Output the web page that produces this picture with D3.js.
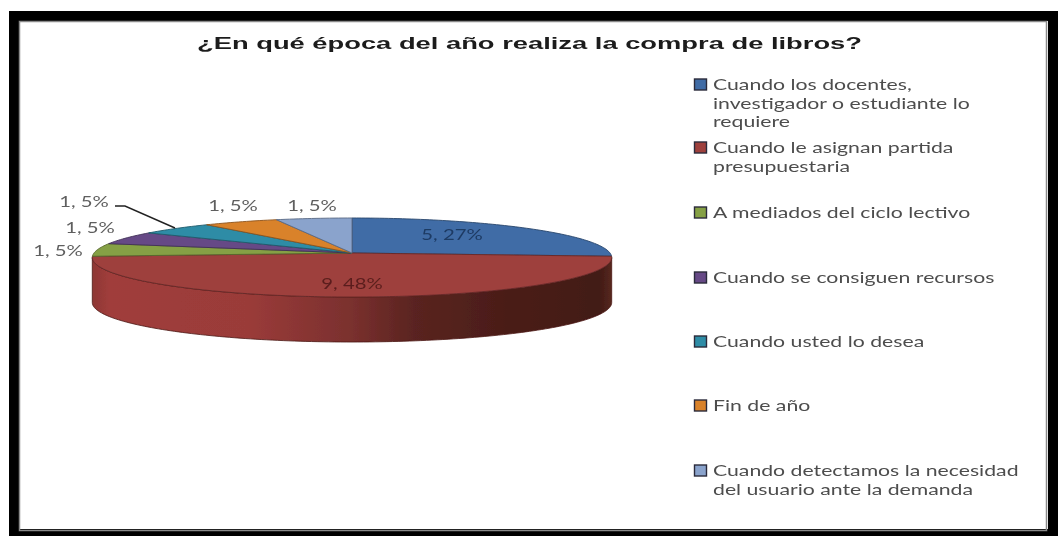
<!DOCTYPE html>
<html>
<head>
<meta charset="utf-8">
<script src="https://cdn.jsdelivr.net/npm/d3@7/dist/d3.min.js"></script>
<style>
html, body { margin: 0; padding: 0; background: #fff; }
svg { display: block; }
text { font-family: Lato, "Open Sans", sans-serif; }
</style>
</head>
<body>
<script>
'use strict'

const title = '¿En qué época del año realiza la compra de libros?'
const categories = [
    ['Cuando los docentes,', 'investigador o estudiante lo', 'requiere'],
    ['Cuando le asignan partida', 'presupuestaria'],
    ['A mediados del ciclo lectivo'],
    ['Cuando se consiguen recursos'],
    ['Cuando usted lo desea'],
    ['Fin de año'],
    ['Cuando detectamos la necesidad', 'del usuario ante la demanda']
]
const values = [5, 9, 1, 1, 1, 1, 1]
const percents = [27, 48, 5, 5, 5, 5, 5]
const colors = ['#3f6ca6', '#9e3f3d', '#85a044', '#664a86', '#2f8ca6', '#d9822c', '#8aa3cc']

const width = 1058
const height = 536

// pie tilt: ellipse seen in perspective, so the apex sits above the ellipse centre
const cx = 352
const apexY = 253
const radiusX = 258
const radiusY = 39
const persp = 0.114
const depth = 45
const silhouette = Math.acos(-persp)

const xScale = d3.scaleLinear().domain([-1, 1]).range([cx - radiusX, cx + radiusX])
const yScale = d3.scaleLinear().domain([-1, 1]).range([apexY - radiusY, apexY + radiusY])

function project(a) {
    const u = Math.sin(a)
    const v = -Math.cos(a)
    const w = 1 - persp * v
    return [xScale(u / w), yScale(v / w)]
}

function arcPoints(a0, a1) {
    const n = Math.max(2, Math.ceil((a1 - a0) / 0.02))
    return d3.range(n + 1).map(i => project(a0 + (a1 - a0) * i / n))
}

const line = d3.line()

const svg = d3.select('body').append('svg').attr('width', width).attr('height', height)

const defs = svg.append('defs')
defs.append('filter').attr('id', 'soft')
    .append('feGaussianBlur').attr('stdDeviation', 0.45)

const wallGrad = defs.append('linearGradient').attr('id', 'wallRed')
    .attr('gradientUnits', 'userSpaceOnUse')
    .attr('x1', cx - radiusX).attr('x2', cx + radiusX).attr('y1', 0).attr('y2', 0)
const wallStops = [[0, '#8f3735'], [0.03, '#a03d3b'], [0.3, '#9a3b39'], [0.5, '#7a302e'],
    [0.62, '#5a2420'], [0.8, '#4a1d18'], [0.98, '#421a14'], [1, '#54261f']]
wallStops.forEach(s => wallGrad.append('stop').attr('offset', s[0]).attr('stop-color', s[1]))

const root = svg.append('g').attr('filter', 'url(#soft)')

// frame
root.append('rect').attr('x', 14).attr('y', 16).attr('width', 1039).attr('height', 518)
    .attr('fill', '#fff').attr('stroke', '#000').attr('stroke-width', 10)
root.append('rect').attr('x', 19.5).attr('y', 21.5).attr('width', 1027).attr('height', 509)
    .attr('fill', 'none').attr('stroke', '#8a8a8a').attr('stroke-width', 1.5)

root.append('text').attr('x', 197).attr('y', 49)
    .style('font-family', '"Liberation Sans", sans-serif')
    .attr('font-size', 17).attr('font-weight', 700).attr('fill', '#1c1c1c')
    .attr('textLength', 665).attr('lengthAdjust', 'spacingAndGlyphs').text(title)

const slices = d3.pie().sort(null)(values)

// side wall, only the front part of the rim can be seen
const wall = root.append('g')
slices.forEach(d => {
    const a0 = Math.max(d.startAngle, silhouette)
    const a1 = Math.min(d.endAngle, 2 * Math.PI - silhouette)
    if (a1 <= a0) return
    const top = arcPoints(a0, a1)
    const bottom = top.map(p => [p[0], p[1] + depth]).reverse()
    wall.append('path').attr('d', line(top.concat(bottom)) + 'Z')
        .attr('fill', 'url(#wallRed)').attr('stroke', '#4a1512').attr('stroke-width', 0.8)
})

// top face
root.append('g').selectAll('path').data(slices).join('path')
    .attr('d', d => line([[cx, apexY]].concat(arcPoints(d.startAngle, d.endAngle))) + 'Z')
    .attr('fill', (d, i) => colors[i])
    .attr('stroke', (d, i) => d3.color(colors[i]).darker(1.2))
    .attr('stroke-width', 0.9)
    .attr('stroke-linejoin', 'round')

// data labels, stretched wide like the picture they came from
const labelAt = [[452, 240], [352, 289], [58, 256], [90, 233], [84, 207], [233, 211], [312, 211]]
const labelFill = ['#1f3a63', '#5a1f1d', '#5f5f5f', '#5f5f5f', '#5f5f5f', '#5f5f5f', '#5f5f5f']
root.append('g').selectAll('text').data(values).join('text')
    .attr('transform', (d, i) => `translate(${labelAt[i][0]},${labelAt[i][1]}) scale(1.27,1)`)
    .attr('text-anchor', 'middle')
    .attr('font-size', 16)
    .attr('fill', (d, i) => labelFill[i])
    .text((d, i) => `${d}, ${percents[i]}%`)

// leader line for the teal slice
root.append('path').attr('d', line([[115, 206], [125, 206], [175, 228]]))
    .attr('fill', 'none').attr('stroke', '#222').attr('stroke-width', 1.4)

// legend
const legendY = [85, 148, 213, 278, 342, 406, 471]
const lineGap = 18.7
const item = root.append('g').selectAll('g').data(categories).join('g')
    .attr('transform', (d, i) => `translate(0,${legendY[i]})`)
item.append('rect').attr('x', 694.5).attr('y', -6).attr('width', 12).attr('height', 11)
    .attr('fill', (d, i) => colors[i]).attr('stroke', '#2b2b3a').attr('stroke-width', 1.4)
item.selectAll('text').data(d => d).join('text')
    .attr('transform', (d, j) => `translate(713,${j * lineGap + 5}) scale(1.37,1)`)
    .attr('font-size', 15.5)
    .attr('fill', '#4d4d4d')
    .text(d => d)
</script>
</body>
</html>
